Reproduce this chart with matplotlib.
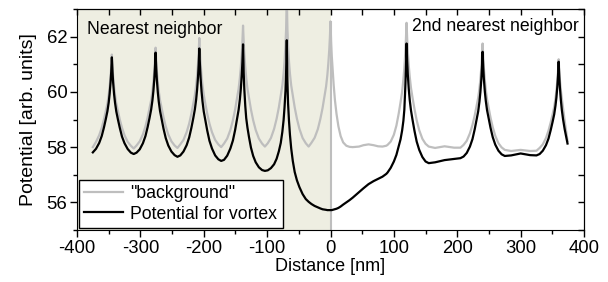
import matplotlib
matplotlib.use('Agg')
import matplotlib.pyplot as plt
from matplotlib.ticker import MultipleLocator

# Distancia [nm] y potenciales
distancia = [
    -375, -370, -365, -361, -357.5, -354.5, -352, -350, -348.5, -347, -346, -345,
    -344, -343, -341.5, -340, -338, -335.5, -332.5, -329, -325, -320, -315, -310.5,
    -306, -301, -296, -292, -288.5, -285.5, -283, -281, -279.5, -278, -277, -276,
    -275, -274, -272.5, -271, -269, -266.5, -263.5, -260, -256, -251, -246, -241.5,
    -237, -232, -227, -223, -219.5, -216.5, -214, -212, -210.5, -209, -208, -207,
    -206, -205, -203.5, -202, -200, -197.5, -194.5, -191, -187, -182, -177, -172.5,
    -168, -163, -158, -154, -150.5, -147.5, -145, -143, -141.5, -140, -139, -138,
    -137, -136, -134.5, -133, -131, -128.5, -125.5, -122, -118, -113, -108, -103.5,
    -99, -94, -89, -85, -81.5, -78.5, -76, -74, -72.5, -71, -70, -69,
    -68, -67, -65.5, -64, -62, -59.5, -56.5, -53, -49, -44, -39, -34.5,
    -30, -25, -20, -16, -12.5, -9.5, -7, -5, -3.5, -2, -1, 0,
    1, 2, 3.5, 5, 7, 9.5, 12.5, 16, 20, 25, 30, 35, 45, 52, 60, 68, 75, 82, 88,
    90, 95, 100, 104, 107.5, 110.5, 113, 115, 116.5, 118, 119, 120,
    121, 122, 123.5, 125, 127, 129.5, 132.5, 136, 140, 145, 150, 155, 165, 180, 195, 205,
    210, 215, 220, 224, 227.5, 230.5, 233, 235, 236.5, 238, 239, 240,
    241, 242, 243.5, 245, 247, 249.5, 252.5, 256, 260, 265, 270, 275, 285, 300, 315, 325,
    330, 335, 340, 344, 347.5, 350.5, 353, 355, 356.5, 358, 359, 360,
    361, 362, 363.5, 365, 367, 369.5, 372, 374,
]

fondo = [
    58.0, 58.19, 58.43, 58.70, 59.00, 59.31, 59.58, 59.89, 60.19, 60.57, 60.91, 61.35,
    60.91, 60.57, 60.19, 59.89, 59.58, 59.31, 59.00, 58.70, 58.43, 58.19, 58.05, 57.95,
    58.06, 58.21, 58.46, 58.75, 59.08, 59.41, 59.70, 60.03, 60.36, 60.76, 61.13, 61.6,
    61.13, 60.76, 60.36, 60.03, 59.70, 59.41, 59.08, 58.75, 58.46, 58.21, 58.06, 57.97,
    58.10, 58.26, 58.54, 58.85, 59.21, 59.57, 59.89, 60.24, 60.60, 61.04, 61.43, 61.95,
    61.43, 61.04, 60.60, 60.24, 59.89, 59.57, 59.21, 58.85, 58.54, 58.26, 58.10, 58.0,
    58.13, 58.31, 58.62, 58.97, 59.36, 59.76, 60.11, 60.51, 60.90, 61.39, 61.83, 62.4,
    61.83, 61.39, 60.90, 60.51, 60.11, 59.76, 59.36, 58.97, 58.62, 58.31, 58.13, 58.02,
    58.14, 58.33, 58.66, 59.03, 59.44, 59.86, 60.23, 60.66, 61.1, 61.7, 62.3, 63.5,
    62.3, 61.7, 61.1, 60.66, 60.23, 59.86, 59.44, 59.03, 58.66, 58.33, 58.14, 58.02,
    58.16, 58.34, 58.65, 59.02, 59.42, 59.83, 60.19, 60.60, 61.01, 61.51, 61.96, 62.55,
    61.8, 61.3, 60.75, 60.25, 59.7, 59.2, 58.75, 58.4, 58.17, 58.05, 58.01, 58.0, 58.02, 58.07, 58.1, 58.07, 58.03, 58.02, 58.05,
    58.08, 58.2, 58.45, 58.78, 59.2, 59.62, 60.0, 60.45, 60.85, 61.4, 61.9, 62.5,
    61.92, 61.45, 60.95, 60.55, 60.14, 59.78, 59.38, 58.97, 58.61, 58.3, 58.12, 58.02, 57.97, 58.03, 57.98, 57.98,
    58.08, 58.23, 58.50, 58.80, 59.14, 59.48, 59.78, 60.12, 60.46, 60.88, 61.26, 61.75,
    61.25, 60.86, 60.43, 60.08, 59.73, 59.42, 59.07, 58.72, 58.41, 58.14, 57.99, 57.9, 57.86, 57.9, 57.86, 57.87,
    57.97, 58.10, 58.33, 58.60, 58.90, 59.19, 59.46, 59.76, 60.05, 60.42, 60.75, 61.18,
    60.75, 60.42, 60.05, 59.76, 59.4, 58.95, 58.55, 58.22,
]

vortice = [
    57.81, 57.94, 58.15, 58.40, 58.71, 59.02, 59.30, 59.61, 59.93, 60.35, 60.73, 61.25,
    60.73, 60.34, 59.92, 59.61, 59.29, 59.01, 58.70, 58.38, 58.14, 57.93, 57.80, 57.75,
    57.80, 57.92, 58.14, 58.40, 58.73, 59.06, 59.36, 59.69, 60.02, 60.46, 60.87, 61.42,
    60.85, 60.44, 59.99, 59.65, 59.31, 59.01, 58.67, 58.33, 58.06, 57.84, 57.71, 57.65,
    57.70, 57.84, 58.07, 58.35, 58.70, 59.05, 59.37, 59.72, 60.08, 60.55, 60.98, 61.57,
    60.96, 60.51, 60.02, 59.66, 59.29, 58.97, 58.60, 58.23, 57.95, 57.70, 57.56, 57.50,
    57.54, 57.69, 57.95, 58.24, 58.62, 59.01, 59.35, 59.73, 60.11, 60.62, 61.08, 61.72,
    60.7, 60.1, 59.5, 59.05, 58.7, 58.35, 57.98, 57.68, 57.45, 57.27, 57.17, 57.14,
    57.16, 57.24, 57.38, 57.58, 57.85, 58.15, 58.55, 58.98, 59.45, 60.05, 60.75, 61.87,
    60.4, 59.6, 58.95, 58.45, 57.95, 57.5, 57.1, 56.8, 56.55, 56.3, 56.12, 56.02,
    55.94, 55.87, 55.82, 55.78, 55.75, 55.74, 55.73, 55.72, 55.72, 55.72, 55.72, 55.72,
    55.72, 55.72, 55.73, 55.74, 55.75, 55.77, 55.8, 55.85, 55.92, 56.0, 56.08, 56.17, 56.37, 56.51, 56.66, 56.77, 56.85, 56.93, 57.03,
    57.08, 57.25, 57.48, 57.72, 58.02, 58.28, 58.6, 58.95, 59.35, 60.15, 60.8, 61.75,
    61.1, 60.62, 60.1, 59.71, 59.33, 58.98, 58.59, 58.2, 57.9, 57.64, 57.48, 57.42, 57.45, 57.53, 57.57, 57.6,
    57.66, 57.79, 58.02, 58.29, 58.64, 58.99, 59.29, 59.64, 59.99, 60.45, 60.87, 61.45,
    60.88, 60.47, 60.02, 59.68, 59.34, 59.04, 58.7, 58.36, 58.09, 57.87, 57.74, 57.68, 57.7, 57.77, 57.71, 57.7,
    57.75, 57.87, 58.07, 58.31, 58.62, 58.92, 59.19, 59.5, 59.8, 60.21, 60.58, 61.09,
    60.55, 60.15, 59.7, 59.35, 59.0, 58.65, 58.35, 58.13,
]

plt.rcParams['font.family'] = ['Liberation Sans', 'DejaVu Sans']
plt.rcParams['font.size'] = 13
plt.rcParams['axes.unicode_minus'] = False

GRIS = '#bebebe'

fig = plt.figure(figsize=(6.08, 2.82), dpi=100)
ax = fig.add_axes([77 / 608, 1 - 230 / 282, 507 / 608, 221 / 282])

# zona de vecinos cercanos
ax.axvspan(-400, 0, color='#eeeee2', zorder=0, lw=0)
ax.vlines(0, 55, fondo[distancia.index(0)], color=GRIS, lw=1.5, zorder=1)

ax.plot(distancia, fondo, color=GRIS, lw=1.6, label='"background"', zorder=2)
ax.plot(distancia, vortice, color='black', lw=1.6, label='Potential for vortex', zorder=3)

ax.set_xlim(-400, 400)
ax.set_ylim(55, 63)
ax.xaxis.set_major_locator(MultipleLocator(100))
ax.xaxis.set_minor_locator(MultipleLocator(50))
ax.yaxis.set_major_locator(MultipleLocator(2))
ax.yaxis.set_minor_locator(MultipleLocator(1))
ax.tick_params(which='major', direction='out', length=5, width=1, labelsize=13.3, pad=2)
ax.tick_params(which='minor', direction='out', length=3, width=1)

# marcas interiores arriba y a la derecha
arriba = ax.secondary_xaxis('top')
arriba.xaxis.set_major_locator(MultipleLocator(50))
arriba.tick_params(direction='in', length=4, width=1, labeltop=False)
derecha = ax.secondary_yaxis('right')
derecha.yaxis.set_major_locator(MultipleLocator(1))
derecha.tick_params(direction='in', length=4, width=1, labelright=False)

ax.set_xlabel('Distance [nm]', fontsize=13, labelpad=1)
ax.set_ylabel('Potential [arb. units]', fontsize=14, labelpad=7)

ax.text(-384, 62.26, 'Nearest neighbor', ha='left', va='center', fontsize=12.7)
ax.text(392, 62.35, '2nd nearest neighbor', ha='right', va='center', fontsize=12.7)

leg = ax.legend(loc='lower left', bbox_to_anchor=(0, 0), fontsize=12.7, frameon=True,
                fancybox=False, framealpha=1, edgecolor='black', borderaxespad=0.12,
                handlelength=2.2, handletextpad=0.4, labelspacing=0.2, borderpad=0.3)
leg.get_frame().set_linewidth(1)

plt.savefig('out.png', dpi=100)
plt.close()
